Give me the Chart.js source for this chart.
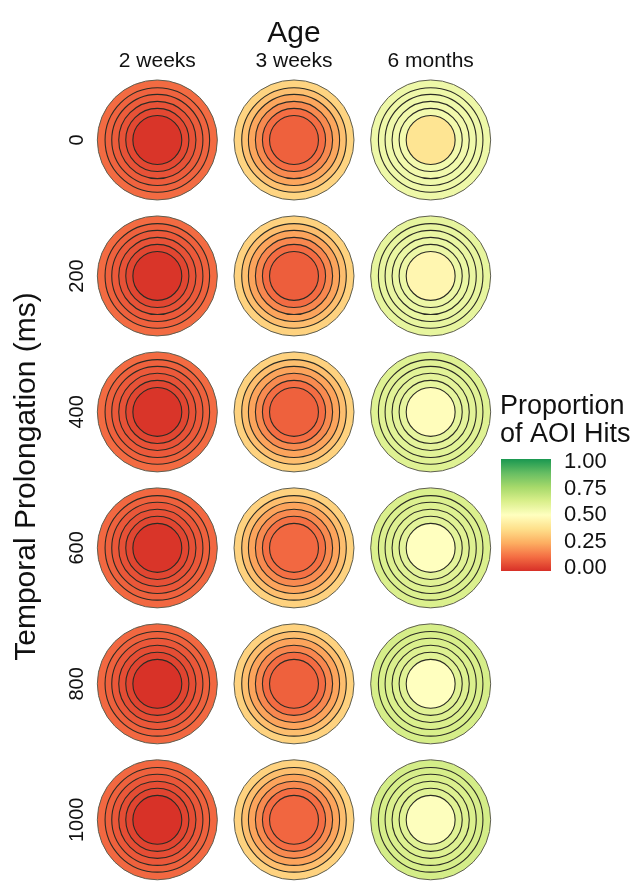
<!DOCTYPE html>
<html>
<head>
<meta charset="utf-8">
<script src="https://cdn.jsdelivr.net/npm/chart.js@4/dist/chart.umd.min.js"></script>
<style>
  html, body { margin: 0; padding: 0; background: #fff; overflow: hidden; }
  #wrap { width: 633px; height: 881px; }
</style>
</head>
<body>
<div id="wrap"><canvas id="grafico" width="633" height="881"></canvas></div>
<script>
// columnas (edad) y filas (prolongación temporal)
const ages = ['2 weeks', '3 weeks', '6 months'];
const prolongations = ['0', '200', '400', '600', '800', '1000'];

// proporción de AOI hits por anillo, del anillo exterior al disco central
const twoWeeks = [
  [0.12, 0.105, 0.09, 0.07, 0.05, 0.01],
  [0.12, 0.10, 0.085, 0.07, 0.045, 0.01],
  [0.12, 0.10, 0.085, 0.07, 0.045, 0.01],
  [0.115, 0.10, 0.08, 0.065, 0.045, 0.01],
  [0.115, 0.10, 0.08, 0.06, 0.04, 0.005],
  [0.115, 0.10, 0.08, 0.06, 0.04, 0.005]
];
const threeWeeks = [
  [0.345, 0.295, 0.235, 0.18, 0.125, 0.10],
  [0.34, 0.29, 0.23, 0.175, 0.12, 0.095],
  [0.34, 0.29, 0.23, 0.18, 0.125, 0.10],
  [0.34, 0.29, 0.23, 0.18, 0.13, 0.115],
  [0.34, 0.29, 0.23, 0.175, 0.12, 0.10],
  [0.34, 0.29, 0.23, 0.18, 0.125, 0.11]
];
const sixMonths = [
  [0.556, 0.552, 0.548, 0.544, 0.54, 0.395],
  [0.58, 0.575, 0.57, 0.565, 0.56, 0.464],
  [0.605, 0.60, 0.595, 0.59, 0.58, 0.49],
  [0.62, 0.615, 0.61, 0.60, 0.59, 0.50],
  [0.633, 0.625, 0.62, 0.61, 0.60, 0.50],
  [0.637, 0.63, 0.62, 0.61, 0.60, 0.505]
];

// radio de cada anillo como fracción de media celda
const ringSizes = [0.878, 0.765, 0.667, 0.565, 0.462, 0.358];

// escala de color (RdYlGn) y leyenda
const colorStops = [0, 0.125, 0.25, 0.375, 0.5, 0.625, 0.75, 0.875, 1];
const stopColors = ['#d73027', '#f46d43', '#fdae61', '#fee08b', '#ffffbf',
                    '#d9ef8b', '#a6d96a', '#66bd63', '#1a9850'];
const legendTicks = ['0.00', '0.25', '0.50', '0.75', '1.00'];

const FONT = "'Liberation Sans', Arial, Helvetica, sans-serif";

function hexToRgb(h) {
    return [parseInt(h.slice(1, 3), 16), parseInt(h.slice(3, 5), 16), parseInt(h.slice(5, 7), 16)];
}

// interpolar el color para un valor entre 0 y 1
function colorFor(v) {
    v = Math.max(0, Math.min(1, v));
    let i = 0;
    while (i < colorStops.length - 2 && v > colorStops[i + 1]) i++;
    const t = (v - colorStops[i]) / (colorStops[i + 1] - colorStops[i]);
    const a = hexToRgb(stopColors[i]);
    const b = hexToRgb(stopColors[i + 1]);
    const c = a.map((x, k) => Math.round(x + (b[k] - x) * t));
    return `rgb(${c[0]}, ${c[1]}, ${c[2]})`;
}

const grids = [twoWeeks, threeWeeks, sixMonths];

// radio en píxeles según el ancho de celda del eje x
function ringRadius(chart, size) {
    const xs = chart.scales.x;
    const half = Math.abs(xs.getPixelForValue(1) - xs.getPixelForValue(0)) / 2;
    return size * half;
}

// un dataset por anillo, cada uno con un punto por celda
const datasets = ringSizes.map((size, ring) => {
    const data = [];
    grids.forEach((grid, col) => {
        grid.forEach((rings, row) => {
            data.push({ x: col, y: row, v: rings[ring] });
        });
    });
    return {
        label: 'ring ' + ring,
        data: data,
        order: ringSizes.length - ring,
        clip: false,
        pointStyle: 'circle',
        pointBackgroundColor: (ctx) => colorFor(ctx.raw.v),
        pointBorderColor: ring === 0 ? '#5e5e50' : '#2b2b24',
        pointBorderWidth: ring === 0 ? 1 : 1.1,
        pointRadius: (ctx) => ringRadius(ctx.chart, size),
        pointHoverRadius: (ctx) => ringRadius(ctx.chart, size)
    };
});

// etiquetas del eje y rotadas y barra de color
const extras = {
    id: 'extras',
    afterDraw(chart) {
        const c = chart.ctx;
        const ys = chart.scales.y;
        c.save();
        c.fillStyle = '#111';
        c.font = '20px ' + FONT;
        c.textAlign = 'center';
        c.textBaseline = 'middle';
        prolongations.forEach((lab, i) => {
            c.save();
            c.translate(77, ys.getPixelForValue(i));
            c.rotate(-Math.PI / 2);
            c.fillText(lab, 0, 0);
            c.restore();
        });

        // título de la leyenda
        c.textAlign = 'left';
        c.textBaseline = 'alphabetic';
        c.font = '27px ' + FONT;
        c.fillText('Proportion', 500, 414);
        c.fillText('of AOI Hits', 500, 442);

        // barra de degradado
        const bx = 501, bw = 50, top = 459, bottom = 571;
        const g = c.createLinearGradient(0, bottom, 0, top);
        for (let s = 0; s <= 40; s++) g.addColorStop(s / 40, colorFor(s / 40));
        c.fillStyle = g;
        c.fillRect(bx, top, bw, bottom - top);

        c.fillStyle = '#111';
        c.font = '22px ' + FONT;
        c.textBaseline = 'middle';
        const v0 = 568, v1 = 462;
        legendTicks.forEach((lab) => {
            const v = parseFloat(lab);
            c.fillText(lab, 564, v0 + (v1 - v0) * v);
        });
        c.restore();
    }
};

const ctx = document.getElementById('grafico');
window.myChart = new Chart(ctx, {
    type: 'scatter',
    data: { datasets: datasets },
    options: {
        responsive: false,
        animation: false,
        events: [],
        layout: { padding: { left: 0, right: 134, top: 0, bottom: 0 } },
        plugins: {
            legend: { display: false },
            tooltip: { enabled: false }
        },
        scales: {
            x: {
                type: 'linear',
                position: 'top',
                min: -0.5,
                max: 2.5,
                grid: { display: false, drawTicks: false },
                border: { display: false },
                afterBuildTicks: (s) => { s.ticks = ages.map((a, i) => ({ value: i })); },
                afterFit: (s) => { s.height = 72; },
                ticks: {
                    color: '#111',
                    padding: 0,
                    font: { family: FONT, size: 21, lineHeight: 1 },
                    callback: (v) => ages[v]
                },
                title: {
                    display: true,
                    text: 'Age',
                    color: '#111',
                    padding: { top: 16, bottom: 0 },
                    font: { family: FONT, size: 30 }
                }
            },
            y: {
                type: 'linear',
                reverse: true,
                min: -0.5,
                max: 5.45,
                grid: { display: false, drawTicks: false },
                border: { display: false },
                afterFit: (s) => { s.width = 89; },
                ticks: { display: false },
                title: {
                    display: true,
                    text: 'Temporal Prolongation (ms)',
                    color: '#111',
                    padding: { top: 9, bottom: 0 },
                    font: { family: FONT, size: 30 }
                }
            }
        }
    },
    plugins: [extras]
});
</script>
</body>
</html>
